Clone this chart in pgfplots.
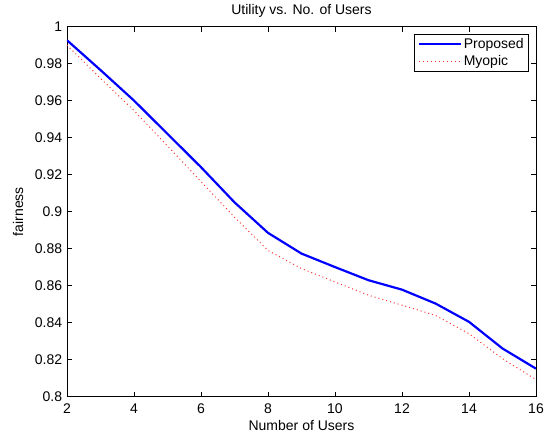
\documentclass[border=0pt]{standalone}
\usepackage{fontspec}
\setmainfont{Liberation Sans}
\usepackage{pgfplots}
\pgfplotsset{compat=1.18}
\begin{document}
\fontsize{14}{16}\selectfont
\begin{tikzpicture}
\begin{axis}[
  name=ax,
  scale only axis,
  width=469pt, height=370pt,
  xmin=2, xmax=16, ymin=0.8, ymax=1,
  xtick={2,4,...,16},
  ytick={0.8,0.82,0.84,0.86,0.88,0.9,0.92,0.94,0.96,0.98,1},
  yticklabels={0.8,0.82,0.84,0.86,0.88,0.9,0.92,0.94,0.96,0.98,1},
  tick align=inside,
  major tick length=5pt,
  axis line style={line width=0.8pt},
  every tick/.style={black, line width=0.6pt},
  /pgf/number format/assume math mode=true,
  tick label style={font=\fontsize{14}{16}\selectfont},
  xticklabel style={yshift=-2pt},
  label style={font=\fontsize{14}{16}\selectfont},
  title style={font=\fontsize{14}{16}\selectfont, yshift=-2pt},
  title={Utility vs. No. of Users},
  xlabel={Number of Users},
  ylabel={fairness},
  xlabel style={yshift=3pt},
  ylabel style={yshift=2pt},
  legend style={at={(1,1)}, anchor=north east, xshift=-7pt, yshift=-7pt,
    draw=black, line width=0.6pt, font=\fontsize{14}{16}\selectfont,
    row sep=1pt, inner xsep=3pt, inner ysep=2pt},
  legend cell align=left,
  legend image code/.code={\draw[#1] (0pt,0pt) -- (42pt,0pt);},
]
\addplot[blue, line width=2.2pt] coordinates {
(2,0.9926) (3,0.9765) (4,0.9600) (5,0.9420) (6,0.9240) (7,0.9050)
(8,0.8885) (9,0.8773) (10,0.8700) (11,0.8629) (12,0.8578)
(13,0.8503) (14,0.8404) (15,0.8260) (16,0.8151)};
\addlegendentry{Proposed}
\addplot[red!80!white, line width=1pt, dash pattern=on 1pt off 3pt] coordinates {
(2,0.9900) (3,0.9720) (4,0.9546) (5,0.9355) (6,0.9162) (7,0.8970)
(8,0.8790) (9,0.8692) (10,0.8620) (11,0.8548) (12,0.8494)
(13,0.8439) (14,0.8340) (15,0.8205) (16,0.8092)};
\addlegendentry{Myopic}
\end{axis}
\useasboundingbox (ax.south west) ++(-67pt,-46pt) rectangle ([xshift=21pt,yshift=23pt]ax.north east);
\end{tikzpicture}
\end{document}
